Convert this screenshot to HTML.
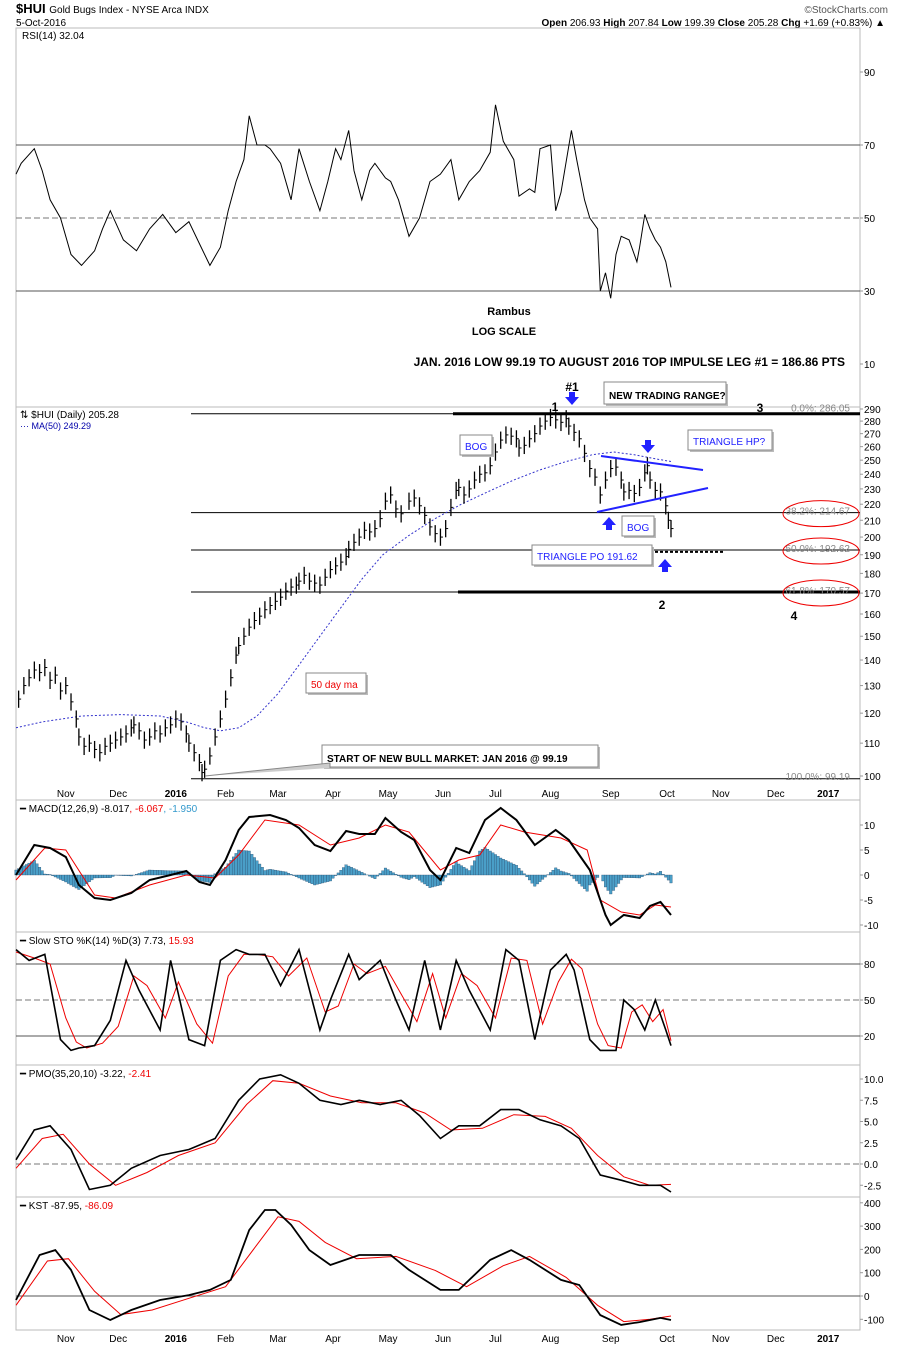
<!DOCTYPE html>
<html><head><meta charset="utf-8"><style>
body{margin:0;background:#fff;font-family:"Liberation Sans",sans-serif;}
svg text{font-family:"Liberation Sans",sans-serif;}
</style></head><body>
<svg id="c" width="900" height="1346" xmlns="http://www.w3.org/2000/svg">
<text x="16" y="13" font-size="13" font-weight="bold">$HUI <tspan font-size="10" font-weight="normal">Gold Bugs Index - NYSE Arca INDX</tspan></text>
<text x="16" y="26" font-size="10">5-Oct-2016</text>
<text x="888" y="13" font-size="10" fill="#555" text-anchor="end">©StockCharts.com</text>
<text x="885" y="26" font-size="10" text-anchor="end"><tspan font-weight="bold">Open</tspan> 206.93 <tspan font-weight="bold">High</tspan> 207.84 <tspan font-weight="bold">Low</tspan> 199.39 <tspan font-weight="bold">Close</tspan> 205.28 <tspan font-weight="bold">Chg</tspan> +1.69 (+0.83%) ▲</text>
<g id="g"></g>
</svg>
<script>
// ---- data (day index = trading days since chart start) ----
const monthLabels=["Nov","Dec","2016","Feb","Mar","Apr","May","Jun","Jul","Aug","Sep","Oct","Nov","Dec","2017"];
const monthDays=[19,39,61,80,100,121,142,163,183,204,227,248.5,269,290,310];
const priceDays=[1,3,5,7,9,11,13,15,17,19,21,23,24,26,28,30,32,34,36,38,40,42,44,45,47,49,51,53,55,57,59,61,63,65,66,68,70,71,72,74,76,78,80,82,84,85,87,89,91,93,95,97,99,101,103,105,107,108,110,112,114,116,118,120,122,124,126,127,129,131,133,135,137,139,141,143,145,147,150,152,154,156,158,160,162,164,166,168,169,171,173,175,177,179,181,183,185,187,189,191,192,194,196,198,200,202,204,206,208,210,211,213,215,217,219,221,223,225,227,229,231,232,234,236,238,240,241,242,244,246,248,249,250];
const priceClose=[125,130,133,136,135,137,132,134,128,130,124,118,112,109,110,108,107,109,110,111,112,113,115,116,114,111,112,114,113,115,116,118,117,113,110,107,104,101,102,106,112,118,125,133,142,146,150,154,157,159,162,164,166,168,171,173,174,176,179,176,175,174,178,182,184,186,189,193,197,200,204,203,205,211,222,226,217,214,222,224,219,213,206,202,200,205,218,229,231,226,230,236,240,241,246,256,265,269,268,266,259,261,266,270,276,280,283,281,279,282,276,271,266,255,244,238,226,236,244,245,236,228,229,227,231,241,246,236,229,228,219,210,205];
const maDays=[0,10,25,40,55,65,72,78,85,92,100,108,116,124,132,140,150,160,170,180,190,200,210,220,228,236,244,250];
const maValues=[115,117,119,119.5,119,117,115,114,115,119,127,138,150,163,177,190,201,211,220,228,236,243,249,254,256,254,251,249];
const rsiDays=[0,2,7,10,13,17,21,25,30,33,36,41,46,51,56,61,66,70,74,78,81,84,87,89,92,95,97,101,105,108,112,116,119,122,124,127,129,132,135,137,141,143,146,150,154,158,162,166,169,173,177,181,183,186,190,192,196,198,200,204,206,208,212,214,217,219,222,223,225,227,229,231,234,237,238,240,242,244,246,248,250];
const rsiValues=[62,65,69,63,55,50,40,37,41,47,52,44,41,47,51,46,49,43,37,42,52,60,66,78,70,70,69,65,55,69,60,52,60,69,66,74,63,55,63,65,61,60,55,45,50,60,62,66,55,60,63,68,81,71,66,56,58,57,69,70,52,57,74,66,55,50,47,30,35,28,40,45,44,38,42,51,47,44,42,38,31];
const macdDays=[0,7,13,19,24,30,36,44,51,59,65,70,74,80,85,89,97,103,108,114,120,126,131,137,141,147,152,158,162,168,173,179,185,191,198,206,211,219,225,227,232,238,242,246,250];
const macdValues=[0,6,5.4,3.6,-2,-4.6,-5,-3.6,-1,0,0.8,-1.4,-2,3,9,11.6,12,11,9.4,6,4.8,8.8,8.2,8.2,11.4,8.6,7,1,-1,5.4,4.4,11,13.4,11,6,9,7,1,-8,-10,-8,-8.6,-6.2,-5.4,-8];
const signalDays=[0,11,19,30,38,51,65,76,85,95,108,120,131,141,150,162,169,177,185,194,208,218,223,231,238,244,250];
const signalValues=[-1,5.4,5,-4,-4.6,-2,0,-0.6,4,11,10,6,7.4,10,8.6,1,3,4,10,8.6,7.4,5,-5,-7.4,-8,-6,-6.4];
const stoDays=[0,5,11,17,21,24,30,36,42,47,55,59,66,72,78,84,89,95,101,108,116,120,127,131,139,145,150,156,162,168,173,181,187,192,198,204,210,213,219,223,229,232,236,240,244,248,250];
const stoK=[92,83,88,17,8,10,12,33,83,58,25,83,17,12,83,92,88,88,62,92,25,50,88,67,83,50,25,83,25,83,58,25,92,83,17,75,88,75,17,8,8,50,42,25,50,25,12];
const stoDDays=[0,7,13,19,23,27,33,39,45,50,57,62,69,75,81,87,92,98,104,111,118,123,129,134,141,147,153,159,164,170,176,183,189,195,201,207,212,216,222,226,231,235,239,243,247,250];
const stoD=[90,85,80,35,15,10,14,28,70,62,35,65,30,14,70,88,88,86,70,85,40,45,80,72,78,55,32,72,35,72,62,35,85,83,30,65,84,76,30,12,10,40,46,32,42,16];
const pmoDays=[0,7,13,21,28,36,44,55,66,76,85,93,101,108,116,124,131,139,147,154,162,169,177,185,192,200,208,215,223,231,238,246,250];
const pmoValues=[0.5,4,4.5,1.7,-3,-2.5,-0.5,1,1.7,3,7.5,10,10.5,9.5,7.5,7,7.5,7,7.5,5.7,3,4.5,4.5,6.4,6.4,5.2,4.5,3,-1.3,-1.9,-2.5,-2.5,-3.3];
const pmoSigDays=[0,10,18,28,38,50,62,76,88,98,108,120,132,145,156,166,178,190,202,212,222,232,242,250];
const pmoSignal=[-0.5,3,3.5,0,-2.5,-1,1,2.5,7,9.8,9.5,8,7.2,7.2,6,4,4.2,5.8,5.6,4.2,1,-1.5,-2.5,-2.4];
const kstDays=[0,9,15,21,28,36,44,55,66,74,82,89,95,99,105,112,120,131,143,150,162,169,181,189,196,208,215,223,231,238,246,250];
const kstValues=[-17,176,197,112,-60,-103,-60,-17,4,26,69,283,369,369,305,197,133,176,176,112,26,26,155,197,155,69,47,-82,-124,-112,-94,-103];
const kstSigDays=[0,12,20,30,40,52,66,80,92,100,108,118,130,145,160,172,186,196,210,222,232,242,250];
const kstSignal=[-40,150,160,20,-80,-60,-10,40,220,340,320,230,160,170,110,40,130,170,80,-40,-110,-100,-86];

// ---- layout ----
const L=16,R=860;
const X=d=>16+d*2.62;
const NS="http://www.w3.org/2000/svg";
const g=document.getElementById('g');
function el(tag,attrs,parent){const e=document.createElementNS(NS,tag);for(const k in attrs)e.setAttribute(k,attrs[k]);(parent||g).appendChild(e);return e;}
function txt(x,y,s,attrs){const t=el('text',Object.assign({x:x,y:y,'font-size':10},attrs||{}));t.textContent=s;return t;}
function interp(ds,vs,d){if(d<=ds[0])return vs[0];for(let i=1;i<ds.length;i++){if(d<=ds[i]){const f=(d-ds[i-1])/(ds[i]-ds[i-1]);return vs[i-1]+f*(vs[i]-vs[i-1]);}}return vs[vs.length-1];}
function pathOf(ds,vs,Y){return ds.map((d,i)=>(i?'L':'M')+X(d).toFixed(1)+','+Y(vs[i]).toFixed(1)).join('');}
function panel(name,top,bot){
  const r=el('rect',{x:L,y:top,width:R-L,height:bot-top,fill:'none',stroke:'#bbb'});
  
  
}
function yTicks(name,vals,labels,Y){
  vals.forEach((v,i)=>{
    const t=txt(864,Y(v)+4,labels[i],{'font-size':10});
    
    
    el('line',{x1:R,x2:R+3,y1:Y(v),y2:Y(v),stroke:'#999'});
  });
}
function xTicks(y){
  monthLabels.forEach((m,i)=>{
    const t=txt(X(monthDays[i]),y,m,{'text-anchor':'middle','font-size':10,'font-weight':m.length==4?'bold':'normal'});
    
    
  });
}

// ---- RSI panel ----
panel('rsi',28,407);
const Yr=v=>291-(v-30)*3.65;
[70,30].forEach(v=>el('line',{x1:L,x2:R,y1:Yr(v),y2:Yr(v),stroke:'#555'}));
el('line',{x1:L,x2:R,y1:Yr(50),y2:Yr(50),stroke:'#777','stroke-dasharray':'6,3'});
yTicks('rsi',[90,70,50,30,10],['90','70','50','30','10'],Yr);
const rsiLine=el('path',{d:pathOf(rsiDays,rsiValues,Yr),fill:'none',stroke:'#000','stroke-width':1});


let t=txt(22,39,'RSI(14) 32.04');
t=txt(509,315,'Rambus',{'font-weight':'bold','font-size':11,'text-anchor':'middle'});
t=txt(504,335,'LOG SCALE',{'font-weight':'bold','font-size':11,'text-anchor':'middle'});
t=txt(845,366,'JAN. 2016 LOW 99.19 TO AUGUST 2016 TOP IMPULSE LEG #1 = 186.86 PTS',{'font-weight':'bold','font-size':12,'text-anchor':'end'});

// ---- Price panel ----
panel('price',407,800);
const Yp=p=>776-(Math.log10(p)-2)*793.7;
yTicks('price',[290,280,270,260,250,240,230,220,210,200,190,180,170,160,150,140,130,120,110,100],['290','280','270','260','250','240','230','220','210','200','190','180','170','160','150','140','130','120','110','100'],Yp);
[[286.05,191],[214.67,191],[192.62,191],[170.57,191],[99.19,191]].forEach(a=>el('line',{x1:a[1],x2:R,y1:Yp(a[0]),y2:Yp(a[0]),stroke:'#000'}));
el('line',{x1:453,x2:R,y1:Yp(286.05),y2:Yp(286.05),stroke:'#000','stroke-width':3});
el('line',{x1:458,x2:R,y1:Yp(170.57),y2:Yp(170.57),stroke:'#000','stroke-width':3});
el('line',{x1:655,x2:725,y1:Yp(191.62),y2:Yp(191.62),stroke:'#000','stroke-width':2,'stroke-dasharray':'3,2'});
const ma=el('path',{d:pathOf(maDays,maValues,Yp),fill:'none',stroke:'#33c','stroke-width':1,'stroke-dasharray':'2,2'});


priceClose.forEach((c,i)=>{
  const x=X(priceDays[i]);
  const b=el('line',{x1:x,x2:x,y1:Yp(c*1.025),y2:Yp(c*0.975),stroke:'#000','stroke-width':1.3});
  
  
  el('line',{x1:x,x2:x+2.5,y1:Yp(c),y2:Yp(c),stroke:'#000'});
});
t=txt(20,418,'⇅ $HUI (Daily) 205.28');
t=txt(20,429,'··· MA(50) 249.29',{fill:'#00a','font-size':9});
// fib labels
[[286.05,'0.0%: 286.05'],[214.67,'38.2%: 214.67'],[192.62,'50.0%: 192.62'],[170.57,'61.8%: 170.57'],[99.19,'100.0%: 99.19']].forEach((a,i)=>{
  const tt=txt(850,Yp(a[0])-(i==0?2:(i==4?-1:-2)),a[1],{fill:'#888','text-anchor':'end','font-size':10});
  
  
  if(i>0&&i<4){el('ellipse',{cx:821,cy:Yp(a[0])+1,rx:38,ry:13,fill:'none',stroke:'#e00'});}
});
// triangle lines
el('line',{x1:601,y1:456,x2:703,y2:470,stroke:'#22f','stroke-width':2});
el('line',{x1:597,y1:512,x2:708,y2:488,stroke:'#22f','stroke-width':2});
function box(x,y,w,h,s,color,name,fs){
  el('rect',{x:x+2,y:y+2,width:w,height:h,fill:'#bbb'});
  el('rect',{x:x,y:y,width:w,height:h,fill:'#fff',stroke:'#888'});
  const tt=txt(x+5,y+h-5,s,{fill:color,'font-size':fs||10,'font-weight':color=='#000'?'bold':'normal'});
  
  
}
box(604,382,122,22,'NEW TRADING RANGE?','#000','new-trading-range-note');
box(688,430,84,20,'TRIANGLE HP?','#22f','triangle-hp-note');
box(460,435,32,20,'BOG','#22f','bog-note-1');
box(622,516,32,20,'BOG','#22f','bog-note-2');
box(532,545,120,20,'TRIANGLE PO 191.62','#22f','triangle-po-note');
box(306,673,60,20,'50 day ma','#e00','ma-note');
box(322,745,276,22,'START OF NEW BULL MARKET: JAN 2016 @ 99.19','#000','bull-market-note');
el('polyline',{points:'205,776 330,763 330,768',fill:'#ccc',stroke:'#888'});
// arrows
function arrow(x,y,down){
  const p=down?`${x-3},${y-8} ${x+3},${y-8} ${x+3},${y-3} ${x+7},${y-3} ${x},${y+5} ${x-7},${y-3} ${x-3},${y-3}`:`${x-3},${y+8} ${x+3},${y+8} ${x+3},${y+3} ${x+7},${y+3} ${x},${y-5} ${x-7},${y+3} ${x-3},${y+3}`;
  const a=el('polygon',{points:p,fill:'#22f'});
  
  
}
arrow(572,400,true);arrow(648,448,true);arrow(609,522,false);arrow(665,564,false);
[[572,391,'#1'],[555,411,'1'],[760,412,'3'],[662,609,'2'],[794,620,'4']].forEach(a=>{const tt=txt(a[0],a[1],a[2],{'font-weight':'bold','font-size':12,'text-anchor':'middle'});});
xTicks(797);

// ---- MACD panel ----
panel('macd',800,932);
const Ym=v=>875-v*5;
yTicks('macd',[10,5,0,-5,-10],['10','5','0','-5','-10'],Ym);
for(let d=0;d<=250;d++){
  const h=interp(macdDays,macdValues,d)-interp(signalDays,signalValues,d);
  const r=el('rect',{x:X(d)-1.3,y:Math.min(Ym(0),Ym(h)),width:2.6,height:Math.abs(Ym(h)-Ym(0)),fill:'#4a9fc8',stroke:'#246',
    'stroke-width':0.3});
  
  
}
let p=el('path',{d:pathOf(signalDays,signalValues,Ym),fill:'none',stroke:'#e00'});
p=el('path',{d:pathOf(macdDays,macdValues,Ym),fill:'none',stroke:'#000','stroke-width':2});
t=el('text',{x:20,y:812,'font-size':10});t.innerHTML='━ MACD(12,26,9) -8.017<tspan fill="#e00">, -6.067</tspan><tspan fill="#39c">, -1.950</tspan>';

// ---- STO panel ----
panel('sto',932,1065);
const Ys=v=>1000-(v-50)*1.2;
[80,20].forEach(v=>el('line',{x1:L,x2:R,y1:Ys(v),y2:Ys(v),stroke:'#555'}));
el('line',{x1:L,x2:R,y1:Ys(50),y2:Ys(50),stroke:'#777','stroke-dasharray':'6,3'});
yTicks('sto',[80,50,20],['80','50','20'],Ys);
p=el('path',{d:pathOf(stoDDays,stoD,Ys),fill:'none',stroke:'#e00'});
p=el('path',{d:pathOf(stoDays,stoK,Ys),fill:'none',stroke:'#000','stroke-width':1.6});
t=el('text',{x:20,y:944,'font-size':10});t.innerHTML='━ Slow STO %K(14) %D(3) 7.73, <tspan fill="#e00">15.93</tspan>';

// ---- PMO panel ----
panel('pmo',1065,1197);
const Yo=v=>1164-v*8.5;
el('line',{x1:L,x2:R,y1:Yo(0),y2:Yo(0),stroke:'#777','stroke-dasharray':'6,3'});
yTicks('pmo',[10,7.5,5,2.5,0,-2.5],['10.0','7.5','5.0','2.5','0.0','-2.5'],Yo);
p=el('path',{d:pathOf(pmoSigDays,pmoSignal,Yo),fill:'none',stroke:'#e00'});
p=el('path',{d:pathOf(pmoDays,pmoValues,Yo),fill:'none',stroke:'#000','stroke-width':1.6});
t=el('text',{x:20,y:1077,'font-size':10});t.innerHTML='━ PMO(35,20,10) -3.22, <tspan fill="#e00">-2.41</tspan>';

// ---- KST panel ----
panel('kst',1197,1330);
const Yk=v=>1296-v*0.233;
el('line',{x1:L,x2:R,y1:Yk(0),y2:Yk(0),stroke:'#555'});
yTicks('kst',[400,300,200,100,0,-100],['400','300','200','100','0','-100'],Yk);
p=el('path',{d:pathOf(kstSigDays,kstSignal,Yk),fill:'none',stroke:'#e00'});
p=el('path',{d:pathOf(kstDays,kstValues,Yk),fill:'none',stroke:'#000','stroke-width':1.8});
t=el('text',{x:20,y:1209,'font-size':10});t.innerHTML='━ KST -87.95, <tspan fill="#e00">-86.09</tspan>';
xTicks(1342);
</script>
</body></html>
